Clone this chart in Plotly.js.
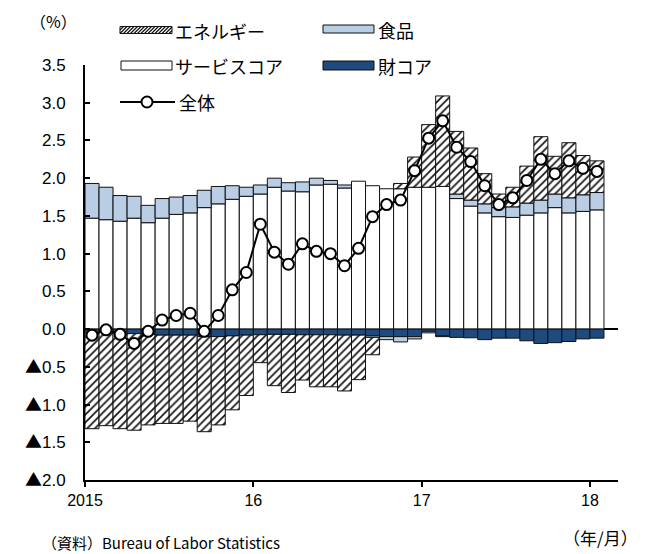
<!DOCTYPE html>
<html>
<head>
<meta charset="utf-8">
<script src="https://cdn.plot.ly/plotly-3.0.1.min.js"></script>
<style>html,body{margin:0;padding:0;background:#fff;}#chart{width:648px;height:554px;}</style>
</head>
<body>
<div id="chart"></div>
<script>
// Months: Jan 2015 – Jan 2018
const months = ["2015/01","2015/02","2015/03","2015/04","2015/05","2015/06","2015/07","2015/08","2015/09","2015/10","2015/11","2015/12",
  "2016/01","2016/02","2016/03","2016/04","2016/05","2016/06","2016/07","2016/08","2016/09","2016/10","2016/11","2016/12",
  "2017/01","2017/02","2017/03","2017/04","2017/05","2017/06","2017/07","2017/08","2017/09","2017/10","2017/11","2017/12",
  "2018/01"];
// Contributions (% points)
const serviceCore = [1.47,1.45,1.43,1.47,1.41,1.47,1.52,1.54,1.61,1.66,1.72,1.76,
  1.79,1.88,1.83,1.82,1.91,1.92,1.87,1.96,1.90,1.86,1.86,1.88,
  1.88,1.89,1.73,1.63,1.54,1.49,1.48,1.51,1.54,1.61,1.54,1.56,1.58];
const goodsCore = [-0.05,-0.04,-0.05,-0.06,-0.07,-0.08,-0.08,-0.08,-0.10,-0.10,-0.09,-0.08,
  -0.075,-0.07,-0.07,-0.075,-0.075,-0.075,-0.08,-0.08,-0.09,-0.10,-0.10,-0.10,
  -0.03,-0.09,-0.11,-0.115,-0.14,-0.12,-0.12,-0.155,-0.19,-0.18,-0.165,-0.13,-0.12];
const food = [0.46,0.43,0.34,0.29,0.23,0.26,0.23,0.23,0.23,0.23,0.18,0.12,
  0.12,0.12,0.11,0.13,0.09,0.05,0.04,null,-0.02,-0.04,-0.07,-0.03,
  -0.02,-0.01,0.06,0.08,0.12,0.12,0.14,0.16,0.17,0.18,0.20,0.22,0.23];
const energy = [-1.27,-1.24,-1.27,-1.28,-1.20,-1.17,-1.17,-1.14,-1.26,-1.17,-0.98,-0.80,
  -0.37,-0.68,-0.77,-0.60,-0.69,-0.69,-0.74,-0.59,-0.23,null,0.07,0.40,
  0.83,1.20,0.83,0.69,0.40,0.18,0.26,0.49,0.84,0.50,0.73,0.52,0.42];
const total = [-0.08,-0.01,-0.07,-0.19,-0.03,0.12,0.18,0.21,-0.03,0.18,0.52,0.75,
  1.39,1.02,0.86,1.13,1.03,1.00,0.84,1.07,1.49,1.65,1.71,2.10,
  2.53,2.76,2.41,2.22,1.90,1.65,1.74,1.97,2.25,2.06,2.23,2.13,2.09];
const xTickText = ["2015","16","17","18"];
const yTickVals = [-2,-1.5,-1,-0.5,0,0.5,1,1.5,2,2.5,3,3.5];
const yTickText = ["▲2.0","▲1.5","▲1.0","▲0.5","0.0","0.5","1.0","1.5","2.0","2.5","3.0","3.5"];
const legendNames = ["エネルギー","食品","サービスコア","財コア","全体"];

const x = months.map((m,i)=>i);
const W=648,H=554, L=85, R=30, T=65, B=74;
const pw=W-L-R, ph=H-T-B;
const px = v => (v-L)/pw;
const py = v => (H-B-v)/ph;
const jp = '"Noto Sans CJK JP", sans-serif';

// enlarge the ▲ mark like the original (full-width glyph)
const yTickHtml = yTickText.map(t => t.replace('▲', `<span style="font-family:'Noto Sans CJK JP'">▲</span>`));

const outline = {color:'#111', width:1};
const traces = [
  {type:'bar', x, y:serviceCore, name:legendNames[2], marker:{color:'#ffffff', line:outline}},
  {type:'bar', x, y:goodsCore, name:legendNames[3], marker:{color:'#1f4a7e', line:outline}},
  {type:'bar', x, y:food, name:legendNames[1], marker:{color:'#b9cde5', line:outline}},
  {type:'bar', x, y:energy, name:legendNames[0], marker:{color:'#ffffff', line:outline,
     pattern:{shape:'/', fgcolor:'#111', bgcolor:'#ffffff', size:5.5, solidity:0.3}}},
  {type:'scatter', mode:'lines+markers', x, y:total, name:legendNames[4],
     line:{color:'#000', width:2}, marker:{symbol:'circle', size:11, color:'#fff', line:{color:'#000', width:2}}}
];

// manual legend
const shapes = [];
const annotations = [];
function rectShape(x0,y0,x1,y1,fill){
  shapes.push({type:'rect', xref:'paper', yref:'paper', x0:px(x0), x1:px(x1), y0:py(y1), y1:py(y0),
    fillcolor:fill, line:{color:'#111', width:1}});
}
function hatchShape(x0,y0,x1,y1){
  const h=y1-y0; let d='';
  for(let s=x0-h; s<x1; s+=3.5){
    let ax=s, ay=y1, bx=s+h, by=y0;
    if(ax<x0){ ay = y1-(x0-ax); ax=x0; }
    if(bx>x1){ by = y0+(bx-x1); bx=x1; }
    if(bx<=ax) continue;
    d += `M${px(ax)},${py(ay)}L${px(bx)},${py(by)}`;
  }
  shapes.push({type:'path', xref:'paper', yref:'paper', path:d, line:{color:'#111', width:1.2}});
  shapes.push({type:'rect', xref:'paper', yref:'paper', x0:px(x0), x1:px(x1), y0:py(y1), y1:py(y0),
    line:{color:'#111', width:1}});
}
function label(text,x0,yc){
  annotations.push({text, xref:'paper', yref:'paper', x:px(x0), y:py(yc), xanchor:'left', yanchor:'middle',
    showarrow:false, font:{family:jp, size:18, color:'#000'}});
}
hatchShape(120,26.5,172,33.5); label(legendNames[0],173,31);
rectShape(323,25,374,33,'#b9cde5'); label(legendNames[1],376,30);
rectShape(121,61,172,70,'#ffffff'); label(legendNames[2],173,66);
rectShape(323,61,374,70,'#1f4a7e'); label(legendNames[3],376,66);
shapes.push({type:'line', xref:'paper', yref:'paper', x0:px(120), x1:px(175), y0:py(102), y1:py(102), line:{color:'#000', width:2}});
shapes.push({type:'circle', xref:'paper', yref:'paper', x0:px(141.5), x1:px(152.5), y0:py(107.5), y1:py(96.5), fillcolor:'#fff', line:{color:'#000', width:2}});
label(legendNames[4],177,102);

annotations.push({text:'（%）', xref:'paper', yref:'paper', x:px(28), y:py(21), xanchor:'left', yanchor:'middle',
  showarrow:false, font:{family:jp, size:16, color:'#000'}});
annotations.push({text:'（年/月）', xref:'paper', yref:'paper', x:px(640), y:py(537), xanchor:'right', yanchor:'middle',
  showarrow:false, font:{family:jp, size:17, color:'#000'}});
annotations.push({text:'（資料）Bureau of Labor Statistics', xref:'paper', yref:'paper', x:px(40), y:py(542), xanchor:'left', yanchor:'middle',
  showarrow:false, font:{family:jp, size:15, color:'#000'}});

const layout = {
  width:W, height:H, margin:{l:L, r:R, t:T, b:B}, paper_bgcolor:'#fff', plot_bgcolor:'#fff',
  showlegend:false, barmode:'relative', bargap:0,
  xaxis:{range:[-0.5,37.5], tickvals:[-0.5,11.5,23.5,35.5], ticktext:xTickText, ticks:'outside', ticklen:5, tickwidth:2,
    tickcolor:'#000', showline:true, linecolor:'#000', linewidth:2, showgrid:false, zeroline:false,
    tickfont:{family:'"Liberation Sans", Arial, sans-serif', size:16, color:'#000'}},
  yaxis:{range:[-2,3.5], tickvals:yTickVals, ticktext:yTickHtml, ticks:'inside', ticklen:5, tickwidth:2, tickcolor:'#000',
    showline:true, linecolor:'#000', linewidth:2, showgrid:false, zeroline:true, zerolinecolor:'#000', zerolinewidth:1.5,
    ticklabelstandoff:14,
    tickfont:{family:'"Liberation Sans", Arial, sans-serif', size:17, color:'#000'}},
  shapes, annotations
};
Plotly.newPlot('chart', traces, layout, {displayModeBar:false, staticPlot:true});
</script>
</body>
</html>
